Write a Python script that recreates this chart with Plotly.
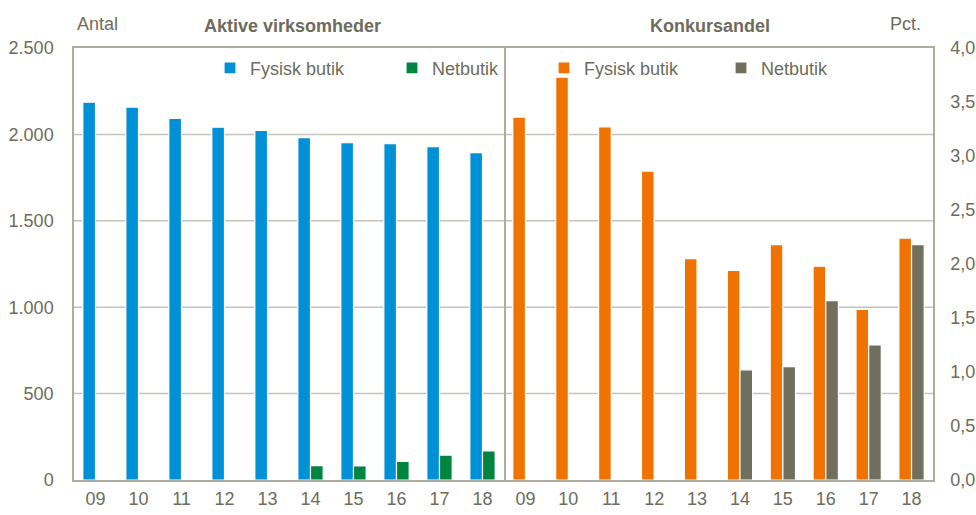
import plotly.graph_objects as go

years = ["09", "10", "11", "12", "13", "14", "15", "16", "17", "18"]
aktive_fysisk = [2186, 2158, 2092, 2042, 2023, 1981, 1952, 1946, 1929, 1894]
aktive_net = [None, None, None, None, None, 83, 81, 108, 144, 169]
konkurs_fysisk = [3.36, 3.73, 3.27, 2.86, 2.05, 1.94, 2.18, 1.98, 1.58, 2.24]
konkurs_net = [None, None, None, None, None, 1.02, 1.05, 1.66, 1.25, 2.18]
left_ticks = [0, 500, 1000, 1500, 2000, 2500]
right_ticks = [0, 0.5, 1, 1.5, 2, 2.5, 3, 3.5, 4]

BLUE = "#0090d5"
GREEN = "#00843f"
ORANGE = "#ef7203"
GRAY = "#706f5d"
TEXT = "#6d6c5c"
AXIS = "#aeac9e"
GRID = "#c4c3b8"
FONT = "Liberation Sans Narrow, Arial Narrow, Liberation Sans, Arial, sans-serif"

fig = go.Figure()
fig.add_trace(go.Bar(x=years, y=aktive_fysisk, name="Fysisk butik", marker=dict(color=BLUE, line=dict(color="white", width=1.2)),
                     xaxis="x", yaxis="y", legend="legend", offsetgroup="a"))
fig.add_trace(go.Bar(x=years, y=aktive_net, name="Netbutik", marker=dict(color=GREEN, line=dict(color="white", width=1.2)),
                     xaxis="x", yaxis="y", legend="legend", offsetgroup="b"))
fig.add_trace(go.Bar(x=years, y=konkurs_fysisk, name="Fysisk butik", marker=dict(color=ORANGE, line=dict(color="white", width=1.2)),
                     xaxis="x2", yaxis="y2", legend="legend2", offsetgroup="a"))
fig.add_trace(go.Bar(x=years, y=konkurs_net, name="Netbutik", marker=dict(color=GRAY, line=dict(color="white", width=1.2)),
                     xaxis="x2", yaxis="y2", legend="legend2", offsetgroup="b"))

L, R, T, B = 74, 933, 47.7, 480.3
W, H = 976, 515
PW = R - L
PH = B - T
split = (504 - 74) / PW

shapes = []
for v in left_ticks[1:-1]:
    shapes.append(dict(type="line", xref="paper", x0=0, x1=1, yref="y", y0=v, y1=v,
                       line=dict(color=GRID, width=1.5), layer="below"))

def px(xr):
    return (xr - L) / PW

def py(yr):
    return 1 - (yr - T) / PH

tickfont = dict(family=FONT, size=18, color=TEXT)
fig.update_layout(
    width=W, height=H,
    margin=dict(l=L, r=W - R, t=T, b=H - B, autoexpand=False),
    paper_bgcolor="white", plot_bgcolor="white",
    separators=",.",
    barmode="group", bargap=0.41, bargroupgap=0.0,
    font=dict(family=FONT, size=18, color=TEXT),
    shapes=shapes,
    hovermode=False,
    xaxis=dict(domain=[0, split], type="category", categoryorder="array", categoryarray=years,
               showline=True, linecolor=AXIS, linewidth=1.5, mirror=True, ticks="",
               tickfont=tickfont, ticklabelstandoff=2, anchor="y", showgrid=False, automargin=False),
    xaxis2=dict(domain=[split, 1], type="category", categoryorder="array", categoryarray=years,
                showline=True, linecolor=AXIS, linewidth=1.5, mirror=True, ticks="",
                tickfont=tickfont, ticklabelstandoff=2, anchor="y2", showgrid=False, automargin=False),
    yaxis=dict(domain=[0, 1], range=[0, 2500], tickvals=left_ticks, tickformat=",d",
               showline=True, linecolor=AXIS, linewidth=1.5, mirror=True, ticks="",
               tickfont=tickfont, ticklabelstandoff=15, showgrid=False, zeroline=False, anchor="x", automargin=False),
    yaxis2=dict(domain=[0, 1], range=[0, 4], tickvals=right_ticks, tickformat=".1f", side="right",
                showline=True, linecolor=AXIS, linewidth=1.5, mirror=False, ticks="",
                tickfont=tickfont, ticklabelstandoff=12, showgrid=False, zeroline=False, anchor="x2", automargin=False),
    legend=dict(orientation="h", x=px(230 - 20), y=py(68), xanchor="left", yanchor="middle",
                entrywidth=137, entrywidthmode="pixels", bgcolor="rgba(0,0,0,0)",
                font=dict(family=FONT, size=18, color=TEXT), traceorder="normal"),
    legend2=dict(orientation="h", x=px(564 - 20), y=py(68), xanchor="left", yanchor="middle",
                 entrywidth=132, entrywidthmode="pixels", bgcolor="rgba(0,0,0,0)",
                 font=dict(family=FONT, size=18, color=TEXT), traceorder="normal"),
    annotations=[
        dict(text="Antal", xref="paper", yref="paper", x=px(75), y=py(24),
             xanchor="left", yanchor="middle", showarrow=False, font=dict(family=FONT, size=18, color=TEXT)),
        dict(text="<b>Aktive virksomheder</b>", xref="paper", yref="paper", x=px(292.5), y=py(26),
             xanchor="center", yanchor="middle", showarrow=False, font=dict(family=FONT, size=18, color=TEXT)),
        dict(text="<b>Konkursandel</b>", xref="paper", yref="paper", x=px(709.7), y=py(26),
             xanchor="center", yanchor="middle", showarrow=False, font=dict(family=FONT, size=18, color=TEXT)),
        dict(text="Pct.", xref="paper", yref="paper", x=px(923), y=py(24),
             xanchor="right", yanchor="middle", showarrow=False, font=dict(family=FONT, size=18, color=TEXT)),
    ],
)

# remove the browser's default 8px body margin so the 976x515 figure fills the window exactly
fig.write_html("out.html", config={"displayModeBar": False},
               post_script="document.body.style.margin='0';")
